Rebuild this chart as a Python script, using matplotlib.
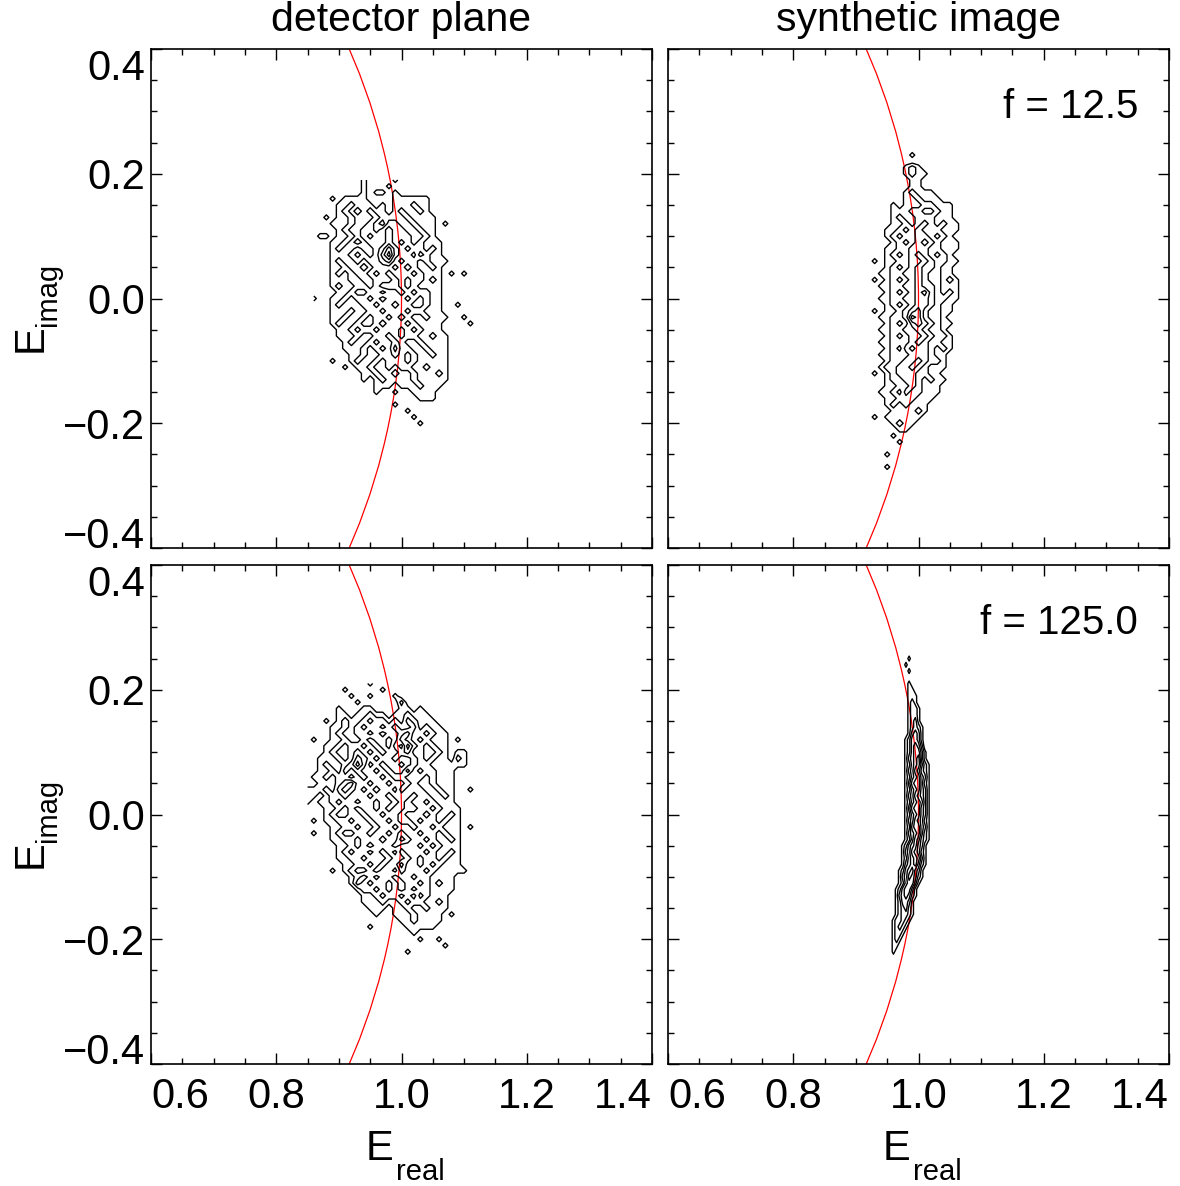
import numpy as np
import matplotlib
matplotlib.use("Agg")
import matplotlib.pyplot as plt
from matplotlib.patches import Circle
from matplotlib.ticker import MultipleLocator

plt.rcParams['font.family'] = ['Liberation Sans', 'DejaVu Sans']

column_titles = ['detector plane', 'synthetic image']
f_labels = ['f = 12.5', 'f = 125.0']
x_ticks = [0.6, 0.8, 1.0, 1.2, 1.4]
x_tick_labels = ['0.6', '0.8', '1.0', '1.2', '1.4']
y_ticks = [-0.4, -0.2, 0.0, 0.2, 0.4]
y_tick_labels = ['\u22120.4', '\u22120.2', '0.0', '0.2', '0.4']
levels = [0.6, 1.45, 2.45, 3.45, 4.45, 5.45]

# binned counts; rows run from high E_imag down
# each grid: (x of first column, column step, y of first row, row step)

# detector plane, f = 12.5
tl_grid = (0.86, 0.01, 0.19, -0.01)
tl_rows = [
    "000000001000010000000000000",
    "000000001000100000000000000",
    "000000001011010000000000000",
    "000101111000011111100000000",
    "000011211101011121100000000",
    "000012101211012112100000000",
    "001011211121111211110000000",
    "000111211210221121110100000",
    "000012112212322112110000000",
    "011011212122322211210000000",
    "000112101222321212111000000",
    "000121121123532122121000000",
    "000111212124632213211000000",
    "000121121223421221211100000",
    "000112110122212321121000000",
    "000121211212322212111010100",
    "000111221122232122121000000",
    "000121122123332121111000000",
    "000011211221223212211000000",
    "100112122123222121211000000",
    "000121112212232211211001000",
    "000111211221222122111000000",
    "000112112122123211211100100",
    "000121121123222121111000010",
    "000011212212221212111000000",
    "000011121122321221121100000",
    "000001211212232112111100000",
    "000001112121242211211100000",
    "000000112112232121121100000",
    "000100121121222121111100000",
    "000001011211212211211100000",
    "000000001121101121112100000",
    "000000001012111121111100000",
    "000000000011101112111000000",
    "000000000010010011110000000",
    "000000000000000001110000000",
    "000000000000010000000000000",
    "000000000000000100000000000",
    "000000000000000010000000000",
    "000000000000000001000000000",
    "000000000000000000000000000",
]

# synthetic image, f = 12.5
tr_grid = (0.92, 0.01, 0.24, -0.01)
tr_rows = [
    "0000000000000000",
    "0000000100000000",
    "0000000000000000",
    "0000001210000000",
    "0000001211000000",
    "0000000110000000",
    "0000000110000000",
    "0000001211100000",
    "0000001121110000",
    "0000101112211100",
    "0000111221121100",
    "0000121122211100",
    "0000112123212110",
    "0001121232221110",
    "0001212233212100",
    "0000121234321110",
    "0001122333221110",
    "0001212343212100",
    "0101122334322110",
    "0001212343321100",
    "0011223343221100",
    "0101212343221210",
    "0011223343321110",
    "0001212345321210",
    "0011223344322110",
    "0001212344321100",
    "0101123453221100",
    "0011223653221000",
    "0001212454321100",
    "0011223343221000",
    "0001212334322100",
    "0011222343221100",
    "0001213233212100",
    "0011222333211000",
    "0001223343221000",
    "0012233432111000",
    "0101233322110000",
    "0001223321211000",
    "0001122321110000",
    "0011213221110000",
    "0001122211100000",
    "0001212111000000",
    "0000111121000000",
    "0101111110000000",
    "0000121100000000",
    "0000011000000000",
    "0000100000000000",
    "0000010000000000",
    "0000000000000000",
    "0001000000000000",
    "0000000000000000",
    "0001000000000000",
    "0000000000000000",
]

# detector plane, f = 125.0
bl_grid = (0.85, 0.01, 0.21, -0.01)
bl_rows = [
    "0000000000100000000000000000",
    "0000001000001000000000000000",
    "0000000100100010000000000000",
    "0000000010000002000000000000",
    "0000010001100001101000000000",
    "0000011011211011211100000000",
    "0001012112122121321110000000",
    "0000112121221232231211000000",
    "0000121122123223422121100000",
    "0100112112322124321211101000",
    "0001121221232132532121100000",
    "0001211232123223422112101100",
    "0011121243212232232121102100",
    "0012112353123221232211111100",
    "0011213232212322421221110000",
    "0112122123221233222121110000",
    "0011123422122122321121110000",
    "1112134321232213222112110010",
    "1101223222122322232211210000",
    "1011212212212232322121110000",
    "0001121232212322332212111000",
    "0001211223221223222321121000",
    "0101122122322123321221211000",
    "0000112212232212232212111010",
    "0100121122322123221221211000",
    "0000112212223224322121121000",
    "0000011212322232221212111000",
    "0000012122123213222121121000",
    "0000011221222322321221211000",
    "0000001122123224221212111000",
    "0000101211232213222121111100",
    "0000000123212232212211110000",
    "0000000132122123221212110000",
    "0000000012212123212211110000",
    "0000000001121221231211100000",
    "0000000001112112122112100000",
    "0000000000111011211211100000",
    "0000000000010011121111010000",
    "0000000000000001121111000000",
    "0000000000100000111110000000",
    "0000000000000000010000000000",
    "0000000000000000001001000000",
    "0000000000000000000000100000",
    "0000000000000000100000000000",
    "0000000000000000000000000000",
]

# synthetic image, f = 125.0
br_grid = (0.95, 0.005, 0.26, -0.01)
br_rows = [
    "00000000000000000",
    "00000001000000000",
    "00000010000000000",
    "00000001000000000",
    "00000000000000000",
    "00000001000000000",
    "00000001100000000",
    "00000001110000000",
    "00000001210000000",
    "00000001221000000",
    "00000001221000000",
    "00000001231000000",
    "00000001232100000",
    "00000001343100000",
    "00000012443100000",
    "00000012454200000",
    "00000012455310000",
    "00000013456310000",
    "00000012456421000",
    "00000013465321000",
    "00000012456431000",
    "00000013566421000",
    "00000012456431000",
    "00000013465431000",
    "00000012456531000",
    "00000013566431000",
    "00000012456431000",
    "00000013465421000",
    "00000012566431000",
    "00000013456421000",
    "00000012465321000",
    "00000124564310000",
    "00000134654210000",
    "00000124565310000",
    "00000134564210000",
    "00001245643100000",
    "00001346542100000",
    "00001245531000000",
    "00012455310000000",
    "00013454210000000",
    "00012443100000000",
    "00012342100000000",
    "00012332100000000",
    "00122321000000000",
    "00123210000000000",
    "00122100000000000",
    "00121000000000000",
    "00110000000000000",
    "00100000000000000",
    "00000000000000000",
]

panels = [[(tl_grid, tl_rows), (tr_grid, tr_rows)],
          [(bl_grid, bl_rows), (br_grid, br_rows)]]

fig = plt.figure(figsize=(11.8, 11.86), dpi=100)
lefts = [151 / 1180, 668 / 1180]
bottoms = [1 - 548 / 1186, 1 - 1064 / 1186]
w, h = 501 / 1180, 499 / 1186

for r in range(2):
    for c in range(2):
        ax = fig.add_axes([lefts[c], bottoms[r], w, h])
        (x0, dx, y0, dy), rows = panels[r][c]
        z = np.array([[int(ch) for ch in row] for row in rows], dtype=float)
        xs = x0 + dx * np.arange(z.shape[1])
        ys = y0 + dy * np.arange(z.shape[0])
        ax.contour(xs, ys, z, levels=levels, colors='k', linewidths=1.0)
        ax.add_patch(Circle((0, 0), 1.0, fill=False, ec='red', lw=0.9))
        ax.set_xlim(0.6, 1.4)
        ax.set_ylim(-0.4, 0.4)

        ax.xaxis.set_minor_locator(MultipleLocator(0.05))
        ax.yaxis.set_minor_locator(MultipleLocator(0.05))
        ax.tick_params(which='both', direction='in', top=True, right=True, width=1.0)
        ax.tick_params(which='major', length=8)
        ax.tick_params(which='minor', length=4)
        ax.tick_params(axis='x', pad=9, labelsize=30)
        ax.tick_params(axis='y', pad=4, labelsize=30)
        for s in ax.spines.values():
            s.set_linewidth(1.2)

        ax.set_xticks(x_ticks)
        ax.set_yticks(y_ticks)
        if r == 1:
            ax.set_xticklabels(x_tick_labels)
            xl = ax.get_xticklabels()
            xl[0].set_ha('left')
            xl[-1].set_ha('right')
            # E with a dropped subscript, as in the original
            ax.text(0.484, -0.193, 'E', transform=ax.transAxes,
                    ha='right', va='baseline', fontsize=30)
            ax.text(0.490, -0.233, 'real', transform=ax.transAxes,
                    ha='left', va='baseline', fontsize=21)
        else:
            ax.set_xticklabels([])
        if c == 0:
            ax.set_yticklabels(y_tick_labels)
            yl = ax.get_yticklabels()
            yl[0].set_va('baseline')
            yl[-1].set_va('top')
            ax.text(-0.2176, 0.393, 'E', transform=ax.transAxes, rotation=90,
                    rotation_mode='anchor', ha='left', va='baseline', fontsize=30)
            ax.text(-0.190, 0.445, 'imag', transform=ax.transAxes, rotation=90,
                    rotation_mode='anchor', ha='left', va='baseline', fontsize=21)
        else:
            ax.set_yticklabels([])
            ax.text(0.938, 0.862, f_labels[r], transform=ax.transAxes,
                    ha='right', va='baseline', fontsize=29)
        if r == 0:
            ax.set_title(column_titles[c], fontsize=29.5, pad=13)

fig.savefig('out.png', dpi=100)
